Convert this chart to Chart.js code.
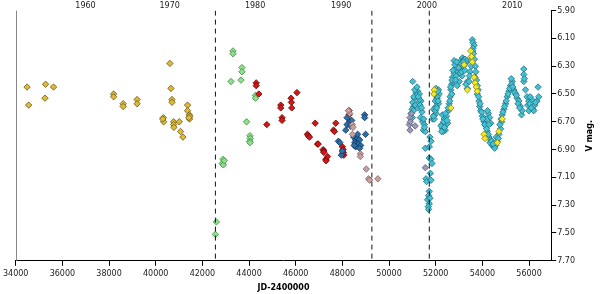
<!DOCTYPE html>
<html>
<head>
<meta charset="utf-8">
<script src="https://cdn.jsdelivr.net/npm/chart.js@4"></script>
<style>
  html, body { margin: 0; padding: 0; background: #fff; }
  #wrap { width: 600px; height: 294px; }
</style>
</head>
<body>
<div id="wrap"><canvas id="lc"></canvas></div>
<script>
// observations as [JD-2400000, V mag]
const oldGold = [
  [34486, 6.45], [35280, 6.43], [35620, 6.45], [35254, 6.53], [34554, 6.58],
  [38196, 6.50], [38196, 6.52], [38605, 6.57], [38605, 6.59], [39202, 6.54], [39202, 6.57],
  [40609, 6.28], [40652, 6.46], [40695, 6.54], [40700, 6.56], [41364, 6.58], [41364, 6.62],
  [41440, 6.65], [41460, 6.66], [41450, 6.68], [41420, 6.67], [40328, 6.67], [40340, 6.70],
  [40300, 6.68], [40770, 6.70], [40770, 6.72], [40780, 6.74], [41010, 6.70], [41066, 6.77],
  [41165, 6.81]
];
const greenObs = [
  [43312, 6.19], [43312, 6.21], [43696, 6.31], [43696, 6.34], [43227, 6.41], [43654, 6.40],
  [44276, 6.51], [44276, 6.53], [43893, 6.70], [44037, 6.80], [44050, 6.82], [44030, 6.84],
  [44040, 6.85], [42886, 6.97], [42850, 7.00], [42900, 7.01], [42940, 6.98], [42600, 7.42],
  [42558, 7.51]
];
const redObs = [
  [44306, 6.42], [44306, 6.44], [44420, 6.50], [44762, 6.72], [45359, 6.58], [45359, 6.60],
  [45415, 6.67], [45415, 6.69], [45800, 6.53], [45815, 6.56], [45830, 6.60], [46054, 6.49],
  [46835, 6.71], [46500, 6.79], [46540, 6.80], [46590, 6.81], [46937, 6.86], [46963, 6.86],
  [47176, 6.90], [47200, 6.91], [47205, 6.92], [47290, 6.97], [47364, 6.95], [47300, 6.98],
  [47717, 6.71], [47620, 6.76], [47660, 6.77], [48000, 6.88], [48030, 6.90], [48040, 6.92],
  [48060, 6.94], [48020, 6.93], [48290, 6.62], [48290, 6.65]
];
const blueObs = [
  [48200, 6.67], [48315, 6.70], [48200, 6.72], [48345, 6.73], [48145, 6.76], [48400, 6.69],
  [48955, 6.65], [48955, 6.67], [48995, 6.79], [47830, 6.84], [47890, 6.85], [47960, 6.94],
  [48000, 6.91], [48485, 6.81], [48570, 6.83], [48655, 6.82], [48740, 6.83], [48530, 6.85],
  [48610, 6.86], [48700, 6.86], [48785, 6.87], [48570, 6.88], [48740, 6.89], [48505, 6.87],
  [48655, 6.79]
];
const pinkObs = [
  [48315, 6.64], [48260, 6.62], [48430, 6.72], [48455, 6.74], [48430, 6.79], [48770, 6.93],
  [48770, 6.95], [49025, 7.04], [49125, 7.11], [49170, 7.12], [49520, 7.11]
];
const lavenderObs = [
  [50900, 6.67], [50870, 6.72], [50900, 6.76], [50915, 6.70], [51120, 6.73], [51555, 7.03],
  [50960, 6.64]
];
const cyanObs = [
  [51015, 6.41], [51225, 6.48], [51160, 6.49], [51300, 6.50], [51270, 6.53], [51370, 6.55],
  [51090, 6.53], [51015, 6.56], [51045, 6.59], [50990, 6.61], [50945, 6.64], [51225, 6.57],
  [51415, 6.63], [51440, 6.70], [51510, 6.72], [51470, 6.76], [51555, 6.77], [51555, 6.89],
  [51180, 6.51], [51300, 6.54], [51130, 6.58], [51260, 6.60], [51345, 6.67], [51060, 6.52],
  [51100, 6.47], [51200, 6.45], [51250, 6.52], [51330, 6.58], [51390, 6.60], [51050, 6.62],
  [51000, 6.67], [51480, 6.68], [51520, 6.74],
  [51755, 6.81], [51800, 6.84], [51725, 6.88], [51725, 6.96], [51800, 6.97], [51840, 7.00],
  [51585, 7.11], [51610, 7.13], [51770, 7.07], [51800, 7.12], [51725, 7.20], [51695, 7.23],
  [51650, 7.26], [51725, 7.29], [51680, 7.31], [51695, 7.33], [51755, 7.25],
  [52010, 6.46], [52120, 6.47], [52010, 6.49], [52150, 6.50], [52055, 6.53], [51980, 6.55],
  [52120, 6.57], [52010, 6.59], [51910, 6.61], [51940, 6.65], [51870, 6.68], [52010, 6.64],
  [51940, 6.68], [52070, 6.52], [51960, 6.50], [52080, 6.48], [52100, 6.55], [51990, 6.62],
  [52040, 6.60], [51900, 6.66],
  [52290, 6.65], [52365, 6.68], [52270, 6.72], [52440, 6.72], [52290, 6.75], [52410, 6.76],
  [52510, 6.71], [52460, 6.66], [52550, 6.62], [52225, 6.73], [52320, 6.77], [52340, 6.70],
  [52380, 6.74], [52250, 6.77], [52480, 6.69], [52420, 6.64],
  [52580, 6.57], [52620, 6.52], [52650, 6.47], [52690, 6.43], [52720, 6.38], [52790, 6.35],
  [52860, 6.31], [52930, 6.29], [53005, 6.28], [53080, 6.26], [53150, 6.24], [53220, 6.25],
  [53290, 6.28], [52750, 6.41], [52790, 6.26], [52880, 6.37], [52960, 6.34], [53090, 6.32],
  [53175, 6.30], [52690, 6.50], [52530, 6.60], [53260, 6.25], [53345, 6.26], [53005, 6.41],
  [53130, 6.37], [53080, 6.28], [53220, 6.29], [52600, 6.55], [52640, 6.45], [52700, 6.40],
  [52740, 6.33], [52820, 6.29], [52900, 6.27], [52980, 6.31], [53040, 6.35], [53110, 6.34],
  [53190, 6.27], [53250, 6.33], [52850, 6.40], [52920, 6.44],
  [53360, 6.41], [53360, 6.46], [53300, 6.43],
  [53570, 6.11], [53600, 6.13], [53645, 6.15], [53600, 6.17], [53590, 6.19], [53540, 6.23],
  [53500, 6.26], [53530, 6.30], [53470, 6.34], [53450, 6.37], [53430, 6.41],
  [53687, 6.38], [53785, 6.44], [53785, 6.50], [53857, 6.55], [53887, 6.59], [53930, 6.62],
  [53998, 6.66], [54071, 6.70], [54143, 6.73], [54211, 6.77], [54284, 6.81], [54356, 6.83],
  [54424, 6.87], [54497, 6.88], [54570, 6.87], [54254, 6.64], [54314, 6.67], [54356, 6.71],
  [54168, 6.68], [53620, 6.21], [53660, 6.25], [53700, 6.30], [53720, 6.34], [53750, 6.40],
  [53820, 6.47], [53840, 6.52], [53900, 6.57], [53960, 6.63], [54020, 6.68], [54100, 6.72],
  [54180, 6.75], [54250, 6.79], [54330, 6.85], [54400, 6.84], [54460, 6.86], [54530, 6.89],
  [54280, 6.72], [54220, 6.62],
  [54638, 6.84], [54710, 6.79], [54783, 6.75], [54826, 6.70], [54851, 6.65], [54923, 6.61],
  [54996, 6.57], [55064, 6.52], [55137, 6.48], [55209, 6.44], [55277, 6.41], [55252, 6.43],
  [55350, 6.47], [55422, 6.50], [55490, 6.53], [55563, 6.55], [55636, 6.59], [55678, 6.65],
  [55704, 6.62], [54600, 6.81], [54680, 6.82], [54750, 6.72], [54800, 6.68], [54880, 6.63],
  [54950, 6.59], [55020, 6.55], [55100, 6.50], [55170, 6.46], [55240, 6.39], [55300, 6.45],
  [55390, 6.49], [55460, 6.51], [55530, 6.57], [55600, 6.60],
  [55776, 6.32], [55776, 6.36], [55776, 6.41], [55848, 6.47], [55916, 6.52], [55989, 6.55],
  [56075, 6.59], [56160, 6.61], [56245, 6.58], [56343, 6.55], [56416, 6.52], [56386, 6.45],
  [56117, 6.54], [55989, 6.62], [56202, 6.62], [55950, 6.58], [56030, 6.57], [56100, 6.60],
  [56280, 6.56], [56050, 6.52], [55800, 6.39]
];
const yellowObs = [
  [51940, 6.47], [51920, 6.50], [52650, 6.60], [53220, 6.29], [53500, 6.19], [53530, 6.23],
  [53570, 6.27], [53360, 6.47], [53645, 6.38], [53690, 6.42], [53740, 6.45], [53785, 6.48],
  [54071, 6.79], [54114, 6.82], [54640, 6.85], [54710, 6.77], [54850, 6.68]
];

const dashedJD = [42559, 49265, 51726];
const jdTicks = [34000, 36000, 38000, 40000, 42000, 44000, 46000, 48000, 50000, 52000, 54000, 56000];
const yearLabels = ['1960', '1970', '1980', '1990', '2000', '2010'];
const yearJD = [36990, 40600, 44260, 47950, 51620, 55280];

const xMin = 34000, xMax = 56950;
const magMin = 5.9, magMax = 7.7;

function pts(arr) {
    return arr.map(p => ({ x: p[0], y: p[1] }));
}

function series(label, arr, fill, edge, order) {
    return {
        type: 'scatter',
        label: label,
        data: pts(arr),
        pointStyle: 'rectRot',
        pointRadius: 3.2,
        pointBackgroundColor: fill,
        pointBorderColor: edge,
        pointBorderWidth: 0.8,
        order: order
    };
}

const datasets = [];
dashedJD.forEach(function (jd) {
    datasets.push({
        type: 'line',
        data: [{ x: jd, y: magMin }, { x: jd, y: magMax }],
        borderColor: '#111',
        borderWidth: 1,
        borderDash: [5, 4],
        pointRadius: 0,
        order: 0
    });
});
datasets.push(series('old', oldGold, '#dcba3a', '#6e5610', 5));
datasets.push(series('green', greenObs, '#8ee08e', '#3c8c3c', 5));
datasets.push(series('red', redObs, '#d01818', '#700000', 4));
datasets.push(series('blue', blueObs, '#2a6eaa', '#12365c', 3));
datasets.push(series('pink', pinkObs, '#c8a0a0', '#866060', 2));
datasets.push(series('lavender', lavenderObs, '#9a9ab8', '#5a5a7a', 2));
datasets.push(series('cyan', cyanObs, '#46c2d4', '#236f80', 2));
datasets.push(series('yellow', yellowObs, '#f2e82a', '#948400', 1));

// gray left frame line + rotated axis title
const framePlugin = {
    id: 'frame',
    afterDraw(chart) {
        const ctx = chart.ctx;
        const a = chart.chartArea;
        ctx.save();
        ctx.strokeStyle = '#888';
        ctx.lineWidth = 1;
        ctx.beginPath();
        ctx.moveTo(Math.round(a.left) + 0.5, a.top);
        ctx.lineTo(Math.round(a.left) + 0.5, a.bottom);
        ctx.stroke();
        ctx.translate(590, (a.top + a.bottom) / 2);
        ctx.rotate(-Math.PI / 2);
        ctx.fillStyle = '#000';
        ctx.font = 'bold 8px "DejaVu Sans"';
        ctx.textAlign = 'center';
        ctx.textBaseline = 'middle';
        ctx.fillText('V mag.', 0, 0);
        ctx.restore();
    }
};

const tickFont = { family: 'DejaVu Sans', size: 8 };

new Chart(document.getElementById('lc'), {
    data: { datasets: datasets },
    options: {
        responsive: true,
        maintainAspectRatio: false,
        animation: false,
        layout: { padding: { left: 0, right: 24, top: 1, bottom: 0 } },
        plugins: {
            legend: { display: false },
            tooltip: { enabled: false }
        },
        scales: {
            x: {
                type: 'linear',
                position: 'bottom',
                min: xMin,
                max: xMax,
                afterBuildTicks: axis => { axis.ticks = jdTicks.map(v => ({ value: v })); },
                ticks: {
                    maxRotation: 0,
                    autoSkip: false,
                    color: '#222',
                    font: tickFont,
                    padding: 3,
                    callback: v => String(v)
                },
                grid: { drawOnChartArea: false, tickLength: 5, color: '#000' },
                border: { color: '#000' },
                title: {
                    display: true,
                    text: 'JD-2400000',
                    color: '#000',
                    font: { family: 'DejaVu Sans', size: 8, weight: 'bold' },
                    padding: { top: 2, bottom: 1 }
                }
            },
            xTop: {
                type: 'linear',
                position: 'top',
                min: xMin,
                max: xMax,
                afterBuildTicks: axis => { axis.ticks = yearJD.map(v => ({ value: v })); },
                ticks: {
                    maxRotation: 0,
                    autoSkip: false,
                    color: '#222',
                    font: tickFont,
                    padding: 0,
                    callback: (v, i) => yearLabels[i]
                },
                grid: { display: false, drawTicks: false },
                border: { display: false }
            },
            y: {
                type: 'linear',
                position: 'right',
                reverse: true,
                min: magMin,
                max: magMax,
                ticks: {
                    stepSize: 0.2,
                    color: '#222',
                    font: tickFont,
                    padding: 1,
                    callback: v => v.toFixed(2)
                },
                grid: { drawOnChartArea: false, tickLength: 5, color: '#000' },
                border: { color: '#000' }
            }
        }
    },
    plugins: [framePlugin]
});
</script>
</body>
</html>
